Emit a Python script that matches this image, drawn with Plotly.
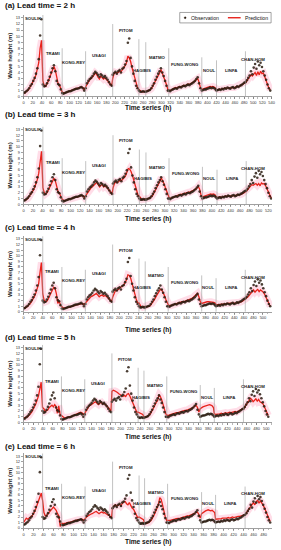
import plotly.graph_objects as go

# ---------------- data ----------------
TYPHOONS = ["SOULIK", "TRAMI", "KONG-REY", "USAGI", "PITOM", "HAGIBIS",
            "MATMO", "FUNG-WONG", "NOUL", "LINFA", "CHAN-HOM"]
SEG_HOURS = [42, 42, 51, 59, 57, 15, 50, 72, 32, 63, 57]     # typhoon durations for lead 2 h
LABEL_Y = [12.9, 7.2, 5.6, 6.8, 11.0, 4.4, 6.4, 5.3, 4.4, 4.4, 6.2]
DIVIDER_TOP = [13.5, 8.0, 7.5, 12.0, 9.5, 9.0, 8.0, 6.5, 6.0, 7.5]
LEAD_TIMES = [2, 3, 4, 5, 6]
PANEL_TAGS = ["(a)", "(b)", "(c)", "(d)", "(e)"]
X_RANGE_END = [541, 528, 519, 512, 497]
X_TICK_END = [540, 520, 500, 500, 480]
STEP_H = 3

OBS = [
    0.6, 0.7, 0.9, 1.1, 1.4, 1.8, 2.1, 2.6, 3.1, 3.8, 4.7, 6.2, 10.1, 12.8,          # SOULIK
    2.0, 1.7, 1.8, 2.2, 2.7, 3.3, 4.0, 4.7, 5.2, 4.2, 2.6, 2.1, 1.9, 1.2,            # TRAMI
    0.6, 0.5, 0.6, 0.7, 0.8, 0.9, 0.9, 1.0, 1.1, 1.2, 1.3, 1.3, 1.4, 1.5, 1.6, 1.4, 1.0,  # KONG-REY
    1.4, 2.2, 2.6, 2.9, 3.1, 3.4, 3.8, 4.1, 3.9, 3.6, 3.3, 3.7, 3.5, 3.2, 3.4, 3.1, 2.8, 2.4, 2.0, 1.8,  # USAGI
    3.6, 3.9, 4.1, 3.8, 4.2, 4.4, 4.0, 4.6, 4.8, 5.3, 5.9, 8.9, 9.6, 6.4, 5.0, 3.8, 2.6, 1.8, 1.4,  # PITOM
    1.0, 0.8, 0.8, 0.9, 0.8,                                                          # HAGIBIS
    0.8, 0.9, 1.0, 1.1, 1.4, 1.8, 2.2, 2.8, 3.3, 3.8, 4.2, 4.7, 4.0, 3.4, 2.6, 1.8, 1.0,  # MATMO
    1.0, 0.9, 1.1, 1.2, 1.3, 1.4, 1.3, 1.5, 1.6, 1.5, 1.7, 1.8, 1.7, 1.9, 2.0, 1.9,
    2.1, 2.2, 2.4, 2.6, 2.9, 3.2, 2.2, 1.4,                                           # FUNG-WONG
    1.0, 1.1, 1.2, 1.2, 1.3, 1.4, 1.5, 1.4, 1.5, 1.4, 1.2,                            # NOUL
    1.0, 1.1, 1.2, 1.1, 1.3, 1.2, 1.4, 1.3, 1.5, 1.4, 1.3, 1.5, 1.6, 1.4, 1.5, 1.7,
    1.6, 1.8, 1.9, 2.1, 2.3,                                                          # LINFA
    2.4, 2.7, 3.1, 3.5, 4.2, 3.7, 4.8, 5.4, 4.6, 5.8, 5.2, 5.6, 4.9, 4.2, 3.5, 2.8, 2.0, 1.4, 1.0,  # CHAN-HOM
]

PRED_2H = [
    0.7, 0.6, 0.9, 1.0, 1.3, 1.7, 2.0, 2.5, 3.0, 3.6, 4.5, 5.6, 8.0, 9.3,
    2.6, 1.8, 1.7, 2.1, 2.6, 3.2, 3.9, 4.6, 5.0, 4.4, 2.9, 2.2, 1.9, 1.4,
    0.8, 0.6, 0.6, 0.7, 0.8, 0.9, 1.0, 1.0, 1.1, 1.2, 1.3, 1.4, 1.4, 1.5, 1.6, 1.5, 1.1,
    1.6, 2.0, 2.5, 2.8, 3.0, 3.2, 3.5, 3.9, 3.7, 3.2, 2.9, 3.4, 3.2, 2.9, 3.1, 2.9, 2.6, 2.3, 2.0, 1.8,
    3.0, 3.8, 4.0, 3.9, 4.0, 4.3, 4.1, 4.4, 4.7, 5.1, 5.6, 6.7, 6.4, 5.8, 4.8, 3.9, 2.8, 2.0, 1.5,
    1.2, 0.9, 0.8, 0.8, 0.9,
    0.9, 0.9, 1.0, 1.1, 1.3, 1.7, 2.1, 2.6, 3.1, 3.5, 3.9, 4.5, 3.9, 3.5, 2.8, 2.0, 1.2,
    1.1, 1.0, 1.1, 1.3, 1.4, 1.5, 1.4, 1.6, 1.7, 1.6, 1.8, 1.9, 1.8, 2.0, 2.1, 2.0,
    2.2, 2.3, 2.4, 2.6, 2.8, 3.0, 2.4, 1.5,
    1.2, 1.3, 1.4, 1.5, 1.6, 1.7, 1.7, 1.6, 1.7, 1.6, 1.4,
    1.1, 1.2, 1.2, 1.2, 1.3, 1.3, 1.4, 1.4, 1.4, 1.5, 1.4, 1.5, 1.5, 1.5, 1.6, 1.6,
    1.7, 1.8, 1.9, 2.0, 2.2,
    2.3, 2.6, 2.9, 3.3, 3.6, 3.4, 3.8, 4.0, 3.5, 4.1, 3.6, 4.2, 3.8, 3.9, 3.3, 2.6, 2.0, 1.4, 1.1,
]

PRED_3H = [
    0.7, 0.7, 0.8, 1.0, 1.3, 1.6, 2.0, 2.4, 2.9, 3.5, 4.3, 5.4, 7.6, 9.2,
    2.9, 2.0, 1.8, 2.0, 2.5, 3.0, 3.5, 4.1, 4.5, 4.1, 3.0, 2.2, 1.9, 1.3,
    0.9, 0.7, 0.6, 0.7, 0.8, 0.9, 0.9, 1.0, 1.1, 1.2, 1.2, 1.3, 1.4, 1.5, 1.5, 1.5, 1.2,
    1.5, 1.9, 2.3, 2.7, 2.9, 3.1, 3.4, 3.7, 3.8, 3.4, 3.0, 3.3, 3.4, 3.0, 3.2, 3.0, 2.7, 2.4, 2.1, 1.8,
    2.8, 3.6, 3.9, 3.8, 3.9, 4.2, 4.1, 4.3, 4.6, 4.9, 5.4, 6.2, 6.1, 5.7, 5.0, 4.1, 3.0, 2.2, 1.6,
    1.4, 1.0, 0.8, 0.8, 0.9,
    1.0, 0.9, 1.0, 1.1, 1.3, 1.6, 2.0, 2.5, 3.0, 3.5, 3.9, 4.6, 4.2, 3.6, 2.9, 2.1, 1.3,
    1.2, 1.0, 1.1, 1.2, 1.4, 1.5, 1.5, 1.6, 1.7, 1.7, 1.8, 1.9, 1.9, 2.0, 2.1, 2.1,
    2.2, 2.3, 2.4, 2.6, 2.8, 3.1, 2.6, 1.6,
    1.3, 1.4, 1.5, 1.6, 1.7, 1.8, 1.8, 1.7, 1.8, 1.7, 1.5,
    1.2, 1.2, 1.3, 1.2, 1.3, 1.3, 1.4, 1.4, 1.4, 1.5, 1.4, 1.5, 1.5, 1.5, 1.6, 1.6,
    1.7, 1.7, 1.8, 2.0, 2.1,
    2.2, 2.5, 2.8, 3.1, 3.4, 3.3, 3.5, 3.6, 3.3, 3.6, 3.2, 3.7, 3.5, 3.6, 3.2, 2.6, 2.0, 1.5, 1.1,
]

PRED_4H = [
    0.8, 0.7, 0.8, 1.0, 1.2, 1.5, 1.9, 2.3, 2.8, 3.4, 4.1, 5.0, 7.0, 8.8,
    3.2, 2.1, 1.8, 1.9, 2.3, 2.8, 3.3, 3.8, 4.4, 4.2, 3.2, 1.5, 1.9, 1.2,
    1.0, 0.7, 0.7, 0.7, 0.8, 0.8, 0.9, 1.0, 1.0, 1.1, 1.2, 1.3, 1.3, 1.4, 1.5, 1.5, 1.3,
    1.6, 2.0, 2.3, 2.5, 2.7, 2.8, 3.0, 3.2, 3.3, 3.0, 2.7, 2.9, 3.0, 2.8, 2.9, 2.8, 2.5, 2.3, 2.0, 1.8,
    2.6, 3.4, 3.8, 3.8, 4.0, 4.2, 4.3, 4.5, 4.8, 5.2, 5.7, 6.6, 6.5, 6.0, 5.2, 4.3, 3.2, 2.3, 1.6,
    1.6, 1.1, 0.8, 0.8, 0.9,
    1.0, 0.9, 0.9, 1.0, 1.2, 1.5, 1.9, 2.3, 2.8, 3.2, 3.6, 4.0, 3.9, 3.5, 2.9, 2.2, 1.4,
    1.3, 1.1, 1.1, 1.2, 1.3, 1.4, 1.5, 1.6, 1.6, 1.7, 1.8, 1.8, 1.9, 2.0, 2.0, 2.1,
    2.2, 2.4, 2.6, 2.9, 3.1, 3.3, 2.7, 1.8,
    1.5, 1.6, 1.7, 1.7, 1.8, 1.8, 1.8, 1.8, 1.7, 1.7, 1.6,
    1.3, 1.3, 1.3, 1.3, 1.4, 1.4, 1.4, 1.4, 1.5, 1.5, 1.5, 1.5, 1.6, 1.6, 1.6, 1.6,
    1.7, 1.7, 1.8, 1.9, 2.1,
    2.2, 2.4, 2.7, 3.0, 3.4, 3.6, 3.9, 3.5, 3.8, 4.0, 3.6, 3.9, 3.7, 3.5, 3.1, 2.6, 2.1, 1.5, 1.0,
]

PRED_5H = [
    0.8, 0.8, 0.9, 1.0, 1.2, 1.5, 1.8, 2.2, 2.7, 3.2, 3.9, 4.6, 5.8, 7.0,
    2.6, 2.4, 1.9, 2.0, 2.2, 2.6, 2.9, 3.0, 2.7, 3.1, 2.8, 1.6, 2.9, 1.4,
    1.2, 0.9, 0.8, 0.8, 0.9, 0.9, 1.0, 1.0, 1.1, 1.2, 1.3, 1.4, 1.5, 1.6, 1.8, 1.7, 1.4,
    1.6, 2.1, 2.5, 2.8, 3.0, 3.1, 3.3, 3.5, 3.6, 3.3, 3.1, 3.4, 3.5, 3.2, 3.3, 3.1, 2.9, 2.6, 2.3, 2.0,
    5.4, 5.6, 5.5, 5.4, 5.2, 5.0, 4.8, 4.6, 4.5, 4.7, 4.5, 4.9, 5.0, 4.6, 4.0, 3.4, 3.0, 2.2, 1.8,
    1.8, 1.7, 1.6, 1.5, 1.4,
    1.0, 0.9, 1.0, 1.1, 1.3, 1.6, 2.0, 2.5, 3.0, 3.5, 3.8, 4.8, 4.5, 3.9, 3.0, 2.1, 1.5,
    1.3, 1.2, 1.3, 1.4, 1.5, 1.5, 1.6, 1.7, 1.7, 1.8, 1.9, 1.9, 2.0, 2.1, 2.1, 2.2,
    2.3, 2.3, 2.4, 2.6, 2.8, 3.0, 2.6, 1.8,
    2.4, 2.6, 2.7, 2.8, 2.9, 3.0, 3.0, 3.1, 3.0, 2.9, 2.6,
    1.5, 1.4, 1.4, 1.5, 1.5, 1.6, 1.5, 1.6, 1.7, 1.6, 1.7, 1.8, 1.7, 1.8, 1.8, 1.9,
    1.8, 1.9, 2.0, 2.1, 2.3,
    2.4, 2.7, 3.0, 3.4, 3.8, 4.2, 4.0, 3.6, 3.9, 4.1, 3.7, 4.0, 3.6, 3.5, 3.3, 2.8, 2.2, 1.6, 1.2,
]

PRED_6H = [
    1.0, 1.4, 1.8, 1.6, 1.9, 2.0, 2.1, 2.4, 2.9, 3.5, 4.1, 4.8, 5.6, 6.3,
    5.0, 2.8, 2.2, 2.3, 2.6, 3.0, 3.4, 3.7, 3.8, 3.5, 3.2, 2.6, 2.2, 0.3,
    0.9, 0.8, 0.8, 0.9, 1.0, 1.0, 1.1, 1.1, 1.2, 1.3, 1.3, 1.4, 1.5, 1.5, 1.6, 1.6, 1.4,
    1.8, 2.0, 2.2, 2.4, 2.5, 2.6, 2.8, 2.9, 3.0, 2.8, 2.6, 2.8, 2.9, 2.7, 2.8, 2.6, 2.5, 2.3, 2.1, 1.9,
    3.8, 4.0, 4.2, 4.0, 4.1, 4.3, 4.0, 4.5, 4.7, 4.8, 4.4, 4.2, 4.6, 4.1, 3.6, 3.4, 2.8, 2.2, 1.9,
    2.0, 1.9, 1.8, 1.6, 1.5,
    0.9, 0.8, 0.9, 1.0, 1.2, 1.5, 1.9, 2.4, 3.0, 3.6, 4.2, 5.5, 5.2, 4.2, 3.0, 2.0, 1.4,
    1.4, 1.3, 1.4, 1.5, 1.5, 1.6, 1.7, 1.7, 1.8, 1.8, 1.9, 2.0, 2.0, 2.1, 2.2, 2.2,
    2.3, 2.4, 2.5, 2.6, 2.8, 2.9, 2.5, 1.8,
    2.6, 2.8, 3.0, 3.1, 3.2, 3.3, 3.2, 3.1, 3.2, 3.0, 2.8,
    1.6, 1.6, 1.7, 1.6, 1.7, 1.8, 1.8, 1.7, 1.8, 1.9, 1.8, 1.9, 2.0, 1.9, 2.0, 2.0,
    2.1, 2.1, 2.2, 2.3, 2.4,
    2.4, 2.8, 3.2, 3.6, 3.9, 4.3, 4.6, 4.2, 4.8, 5.0, 4.5, 4.9, 4.6, 4.1, 3.6, 3.0, 2.3, 1.6, 1.2,
]

PREDS = [PRED_2H, PRED_3H, PRED_4H, PRED_5H, PRED_6H]
LEGEND_LABELS = ["Observation", "Prediction"]

# ---------------- layout constants ----------------
W, H = 281, 550
X_DOMAIN = [23 / W, 276 / W]
# (bottom_px, top_px) of each panel's plotting area
PANEL_PX = [(97, 15), (205, 127), (313, 237), (424, 346), (530, 455)]
TITLE_PX = [6, 115, 228, 339, 448]
XTITLE_PX = [108, 220, 331, 439, 544]
Y_MAX = 13.5

FONT = "Liberation Sans, Arial, sans-serif"
NARROW = "Liberation Sans Narrow, Liberation Sans, Arial, sans-serif"
RED = "#e8231c"
OBS_COLOR = "#2a1c10"


def py(px):
    return 1 - px / H


def pxx(px):
    return px / W


def panel_positions(lead):
    xs, bounds, centers = [], [], []
    start = 0.0
    for h in SEG_HOURS:
        seg = h - (lead - 2)
        n = -(-h // STEP_H)
        for i in range(n):
            xs.append(start + i * STEP_H * seg / h)
        centers.append(start + seg / 2)
        start += seg
        bounds.append(start)
    return xs, bounds[:-1], centers


fig = go.Figure()
annotations = []
shapes = []

for p, lead in enumerate(LEAD_TIMES):
    n = "" if p == 0 else str(p + 1)
    xref, yref = "x" + n, "y" + n
    pred = PREDS[p]
    assert len(pred) == len(OBS)
    xs, bounds, centers = panel_positions(lead)

    # pink halo under prediction
    fig.add_trace(go.Scatter(x=xs, y=pred, mode="lines", xaxis=xref, yaxis=yref,
                             line=dict(color="rgba(255,120,165,0.25)", width=7),
                             hoverinfo="skip", showlegend=False))
    fig.add_trace(go.Scatter(x=xs, y=pred, mode="lines", xaxis=xref, yaxis=yref,
                             name=LEGEND_LABELS[1],
                             line=dict(color=RED, width=1.3), showlegend=False))
    fig.add_trace(go.Scatter(x=xs, y=OBS, mode="markers", xaxis=xref, yaxis=yref,
                             name=LEGEND_LABELS[0],
                             marker=dict(color=OBS_COLOR, size=2.6, opacity=0.85),
                             showlegend=False))

    bottom_px, top_px = PANEL_PX[p]
    fig.layout["xaxis" + n] = dict(
        domain=X_DOMAIN, anchor=yref, range=[0, X_RANGE_END[p]],
        tickvals=list(range(0, X_TICK_END[p] + 1, 20)), tickangle=0,
        tickfont=dict(size=4.0, family=NARROW, color="#333"),
        ticks="outside", ticklen=2, tickwidth=0.6, tickcolor="#666",
        minor=dict(dtick=10, ticks="outside", ticklen=1.5, tickcolor="#888"),
        showline=True, linecolor="#777", linewidth=0.7, showgrid=False,
        zeroline=False, mirror=False)
    fig.layout["yaxis" + n] = dict(
        domain=[py(bottom_px), py(top_px)], anchor=xref, range=[0, Y_MAX],
        tickvals=list(range(0, 14)),
        tickfont=dict(size=4.0, family=NARROW, color="#333"),
        ticks="outside", ticklen=2, tickwidth=0.6, tickcolor="#666",
        showline=True, linecolor="#777", linewidth=0.7, showgrid=False,
        zeroline=False,
        title=dict(text="<b>Wave height (m)</b>",
                   font=dict(size=6, family=FONT, color="#222"), standoff=2))

    # typhoon dividers and labels
    for k, b in enumerate(bounds):
        shapes.append(dict(type="line", xref=xref, yref=yref, x0=b, x1=b,
                           y0=0, y1=DIVIDER_TOP[k],
                           line=dict(color="#9a9a9a", width=0.6)))
    for k, name in enumerate(TYPHOONS):
        last = (k == len(TYPHOONS) - 1)
        annotations.append(dict(xref=xref, yref=yref,
                                x=X_RANGE_END[p] - 10 if last else centers[k], y=LABEL_Y[k],
                                text="<b>%s</b>" % name, showarrow=False,
                                font=dict(size=4.3, family=NARROW, color="#222"),
                                xanchor="right" if last else "center", yanchor="middle"))

    annotations.append(dict(xref="paper", yref="paper", x=0.006, y=py(TITLE_PX[p]),
                            text="<b>%s Lead time = %d h</b>" % (PANEL_TAGS[p], lead),
                            showarrow=False, xanchor="left", yanchor="middle",
                            font=dict(size=8.0, family=FONT, color="#111")))
    annotations.append(dict(xref="paper", yref="paper", x=(X_DOMAIN[0] + X_DOMAIN[1]) / 2,
                            y=py(XTITLE_PX[p]), text="<b>Time series (h)</b>",
                            showarrow=False, xanchor="center", yanchor="middle",
                            font=dict(size=6.6, family=FONT, color="#111")))

# compact legend in panel (a)
shapes.append(dict(type="rect", xref="paper", yref="paper",
                   x0=pxx(182), x1=pxx(275), y0=py(23), y1=py(12.5),
                   line=dict(color="#666", width=0.6), fillcolor="white", layer="above"))
shapes.append(dict(type="circle", xref="paper", yref="paper",
                   x0=pxx(186.5), x1=pxx(188.5), y0=py(18.8), y1=py(16.8),
                   line=dict(color=OBS_COLOR, width=0.3), fillcolor=OBS_COLOR, layer="above"))
shapes.append(dict(type="line", xref="paper", yref="paper",
                   x0=pxx(231), x1=pxx(244), y0=py(17.8), y1=py(17.8),
                   line=dict(color=RED, width=1.4), layer="above"))
annotations.append(dict(xref="paper", yref="paper", x=pxx(191), y=py(17.8),
                        text=LEGEND_LABELS[0], showarrow=False, xanchor="left",
                        yanchor="middle", font=dict(size=5.2, family=NARROW, color="#111")))
annotations.append(dict(xref="paper", yref="paper", x=pxx(246), y=py(17.8),
                        text=LEGEND_LABELS[1], showarrow=False, xanchor="left",
                        yanchor="middle", font=dict(size=5.2, family=NARROW, color="#111")))

fig.update_layout(
    width=W, height=H, margin=dict(l=0, r=0, t=0, b=0),
    paper_bgcolor="white", plot_bgcolor="white",
    annotations=annotations, shapes=shapes,
    showlegend=False, hovermode=False,
)

fig.write_html("out.html",
               config={"displayModeBar": False, "staticPlot": True},
               post_script="document.body.style.margin='0';document.body.style.overflow='hidden';")
